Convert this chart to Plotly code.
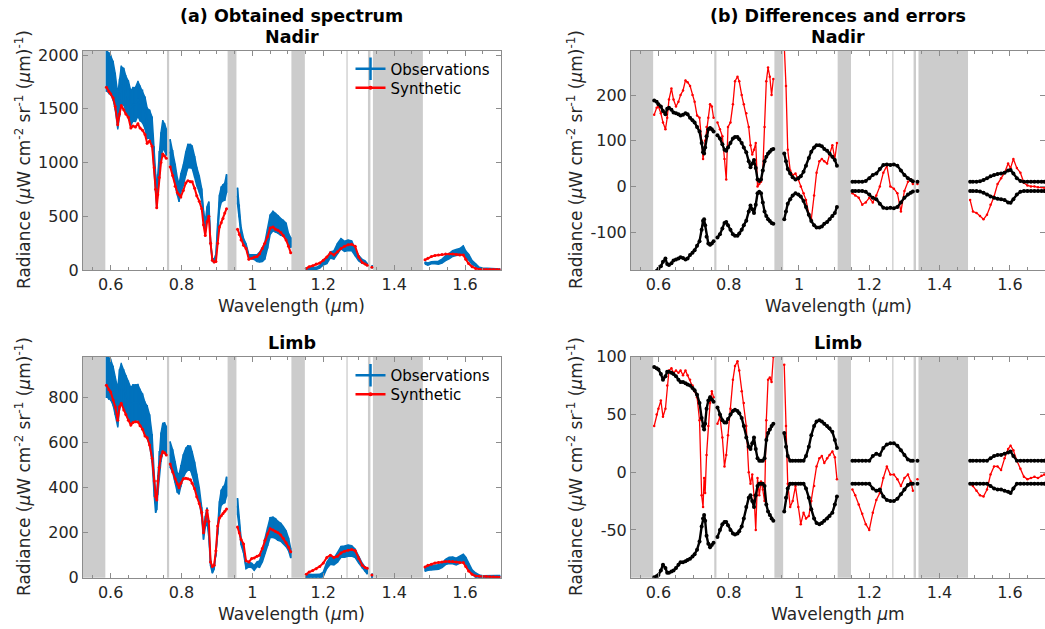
import plotly.graph_objects as go

N = None
# Wavelength grid (micrometres); None separates the spectral windows
wavelength = [
    0.588, 0.595, 0.600, 0.607, 0.613, 0.620, 0.625, 0.630, 0.637, 0.643, 0.650, 0.657, 0.663, 0.670, 0.677,
    0.683, 0.690, 0.697, 0.703, 0.710, 0.717, 0.723, 0.727, 0.730, 0.733, 0.737, 0.742, 0.747, 0.752, 0.757, N,
    0.768, 0.775, 0.782, 0.788, 0.793, 0.798, 0.805, 0.812, 0.818, 0.825, 0.830, 0.837, 0.843, 0.850, 0.857,
    0.862, 0.867, 0.872, 0.877, 0.882, 0.887, 0.892, 0.897, 0.902, 0.907, 0.912, 0.917, 0.922, 0.927, N,
    0.958, 0.963, 0.968, 0.975, 0.982, 0.990, 0.998, 1.005, 1.013, 1.020, 1.028, 1.035, 1.043, 1.050, 1.058,
    1.065, 1.072, 1.080, 1.087, 1.095, 1.102, 1.108, N,
    1.152, 1.160, 1.170, 1.180, 1.190, 1.200, 1.210, 1.220, 1.230, 1.240, 1.250, 1.260, 1.270, 1.280, 1.290,
    1.300, 1.310, 1.318, 1.324, N,
    1.337, N,
    1.487, 1.495, 1.505, 1.515, 1.525, 1.535, 1.545, 1.555, 1.565, 1.575, 1.585, 1.595, 1.602, 1.610, 1.620,
    1.630, 1.640, 1.650, 1.660, 1.670, 1.680, 1.690, 1.698,
]

nadir_synthetic = [
    1700, 1660, 1640, 1600, 1520, 1350, 1450, 1530, 1490, 1450, 1420, 1320, 1340, 1330, 1360,
    1320, 1300, 1260, 1180, 1200, 1150, 950, 750, 580, 700, 860, 1000, 1080, 1060, 1040, N,
    960, 880, 780, 720, 700, 680, 740, 810, 830, 820, 820, 760, 690, 640, 570,
    420, 320, 450, 500, 250, 90, 75, 80, 250, 400, 440, 480, 530, 570, N,
    380, 330, 280, 230, 200, 100, 110, 120, 125, 150, 200, 250, 310, 390, 400,
    380, 370, 350, 320, 280, 220, 160, N,
    15, 30, 40, 55, 65, 90, 120, 160, 140, 170, 200, 220, 235, 240, 220,
    120, 70, 55, 45, N,
    25, N,
    95, 110, 125, 135, 140, 145, 150, 150, 148, 145, 140, 140, 100, 60, 30,
    15, 8, 6, 5, 5, 4, 4, 3,
]
nadir_difference = [
    157, 172, 175, 160, 140, 125, 150, 190, 214, 190, 175, 185, 200, 210, 232,
    228, 220, 200, 185, 155, 150, 100, 60, 80, 100, 130, 150, 180, 175, 150, N,
    140, 125, 110, 60, 15, 130, 140, 180, 230, 240, 230, 200, 180, 160, 130,
    90, 70, 80, 95, 0, 5, 10, 35, 130, 230, 260, 240, 200, 235, N,
    310, 220, 80, 35, 25, 28, 15, 0, -15, -30, -60, -72, -20, 30, 55,
    60, 55, 50, 70, 90, 60, 95, N,
    -15, -20, -25, -40, -35, -25, -35, -20, 0, 30, 45, 0, -5, -15, -55,
    -10, 10, 15, 5, N,
    5, N,
    -30, -55, -58, -65, -72, -62, -40, -22, 5, 18, 30, 50, 40, 60, 40,
    30, 8, 2, 0, 0, -2, -2, -3,
]
nadir_error = [
    188, 185, 180, 175, 165, 158, 170, 172, 168, 162, 160, 158, 155, 157, 160,
    158, 150, 145, 140, 130, 120, 95, 75, 72, 85, 110, 125, 128, 125, 120, N,
    112, 105, 92, 80, 78, 85, 95, 105, 108, 108, 103, 95, 85, 75, 55,
    42, 50, 58, 40, 15, 12, 15, 35, 55, 65, 72, 76, 80, 82, N,
    72, 55, 38, 28, 20, 15, 18, 22, 32, 45, 62, 76, 85, 90, 90,
    88, 82, 78, 72, 65, 58, 45, N,
    10, 10, 10, 10, 12, 18, 25, 28, 38, 47, 48, 47, 48, 45, 35,
    25, 18, 14, 11, N,
    10, N,
    10, 10, 10, 11, 14, 18, 22, 25, 27, 28, 30, 35, 36, 28, 18,
    12, 10, 10, 10, 10, 10, 10, 10,
]

limb_synthetic = [
    855, 835, 825, 790, 760, 700, 760, 775, 745, 725, 700, 678, 690, 693, 692,
    675, 660, 630, 622, 590, 530, 430, 360, 345, 430, 490, 540, 560, 555, 545, N,
    505, 470, 440, 418, 400, 420, 440, 442, 440, 435, 420, 395, 360, 330, 290,
    200, 250, 300, 250, 70, 50, 55, 120, 230, 265, 275, 285, 295, 305, N,
    225, 200, 170, 150, 75, 70, 85, 88, 95, 100, 130, 165, 195, 218, 212,
    205, 200, 190, 175, 155, 135, 115, N,
    15, 25, 32, 40, 50, 65, 90, 100, 90, 95, 110, 118, 122, 125, 120,
    85, 55, 45, 42, N,
    12, N,
    48, 55, 60, 65, 68, 70, 72, 72, 72, 70, 68, 67, 50, 30, 15,
    8, 6, 5, 5, 4, 4, 3, 2,
]
limb_difference = [
    40, 50, 55, 62, 48, 55, 75, 88, 90, 86, 88, 86, 88, 84, 88,
    84, 80, 75, 70, 65, 45, -20, -30, -5, -18, 15, 40, 60, 70, 65, N,
    42, 48, 30, 5, 15, 32, 55, 80, 92, 96, 88, 70, 60, 40, 0,
    -10, -2, -20, -50, -5, -20, -8, -15, -25, 45, 80, 82, 78, 100, N,
    93, 40, -10, -30, -25, -12, -30, -45, -35, -40, -38, -25, -12, 5, 12,
    14, 8, 12, 15, 18, 13, -6, N,
    -15, -20, -28, -36, -45, -50, -35, -24, -18, -5, 5, -2, -2, -6, -12,
    -5, -2, -8, -16, N,
    -6, N,
    -10, -12, -16, -20, -21, -15, -2, 5, 5, 2, 12, 20, 23, 19, 10,
    3, -4, -6, -5, -4, -5, -3, -2,
]
limb_error = [
    91, 90, 89, 85, 80, 83, 87, 87, 86, 85, 83, 80, 78, 78, 77,
    76, 75, 73, 71, 67, 60, 47, 40, 37, 42, 55, 62, 65, 63, 61, N,
    56, 50, 45, 43, 43, 46, 50, 53, 54, 53, 51, 47, 40, 30, 22,
    20, 25, 30, 20, 12, 10, 10, 10, 12, 28, 34, 37, 40, 42, N,
    34, 22, 14, 10, 10, 10, 10, 10, 10, 14, 22, 32, 40, 44, 45,
    44, 42, 40, 38, 35, 28, 21, N,
    10, 10, 10, 10, 10, 10, 14, 16, 15, 21, 24, 25, 25, 23, 19,
    15, 11, 10, 10, N,
    10, N,
    10, 10, 10, 10, 10, 10, 12, 14, 15, 15, 16, 17, 18, 14, 10,
    10, 10, 10, 10, 10, 10, 10, 10,
]

# Masked spectral regions (grey) and thin marker lines
masked_bands = [(0.40, 0.585), (0.930, 0.955), (1.110, 1.148), (1.326, 1.333), (1.340, 1.481)]
thin_lines = [0.762, 1.267]

x_ticks = [0.6, 0.8, 1.0, 1.2, 1.4, 1.6]
x_tick_text = ["0.6", "0.8", "1", "1.2", "1.4", "1.6"]

BLUE = "#0072BD"
RED = "#FF0000"
GRAY = "#cccccc"
AX = "#8c8c8c"
TXT = "#262626"
FONT = "DejaVu Sans"


def add(a, b):
    return [None if (p is None or q is None) else p + q for p, q in zip(a, b)]


def neg(a):
    return [None if p is None else -p for p in a]


def segments(xs, *cols):
    out, cur = [], []
    for i, x in enumerate(xs):
        if x is None:
            if cur:
                out.append(cur)
            cur = []
        else:
            cur.append((x,) + tuple(c[i] for c in cols))
    if cur:
        out.append(cur)
    return out


def band_path(xs, centre, err):
    """Closed outline (centre +/- err) per spectral window, for a filled band."""
    bx, by = [], []
    for seg in segments(xs, centre, err):
        xx = [p[0] for p in seg]
        up = [p[1] + p[2] for p in seg]
        lo = [p[1] - p[2] for p in seg]
        if len(xx) == 1:
            xx = [xx[0] - 0.001, xx[0] + 0.001]
            up = up * 2
            lo = lo * 2
        bx += xx + xx[::-1] + [None]
        by += up + lo[::-1] + [None]
    return bx, by


nadir_obs = add(nadir_synthetic, nadir_difference)
limb_obs = add(limb_synthetic, limb_difference)

W, H = 1045, 629


def xp(px):
    return px / W


def yp(py):
    return 1 - py / H


fig = go.Figure()


def left_panel(xa, ya, obs, err, syn, leg_obs, leg_syn):
    bx, by = band_path(wavelength, obs, err)
    fig.add_trace(go.Scatter(
        x=bx, y=by, xaxis=xa, yaxis=ya, mode="lines", fill="toself", fillcolor=BLUE,
        line=dict(color=BLUE, width=1.5), showlegend=False, hoverinfo="skip"))
    fig.add_trace(go.Scatter(
        x=wavelength, y=obs, xaxis=xa, yaxis=ya, mode="lines",
        line=dict(color=BLUE, width=1.5),
        error_y=dict(type="data", array=[0 if e is None else e * 1.06 for e in err], visible=True,
                     color=BLUE, thickness=1.5, width=0),
        showlegend=False, hoverinfo="skip"))
    fig.add_trace(go.Scatter(
        x=wavelength, y=syn, xaxis=xa, yaxis=ya, mode="lines+markers",
        line=dict(color=RED, width=2), marker=dict(color=RED, size=3),
        showlegend=False, hoverinfo="skip"))
    fig.add_trace(go.Scatter(
        x=[None], y=[None], xaxis=xa, yaxis=ya, mode="lines+markers", name="Observations",
        line=dict(color=BLUE, width=2.5),
        marker=dict(symbol="line-ns", size=17, line=dict(color=BLUE, width=2.5)),
        legend=leg_obs))
    fig.add_trace(go.Scatter(
        x=[None], y=[None], xaxis=xa, yaxis=ya, mode="lines+markers", name="Synthetic",
        line=dict(color=RED, width=2.5), marker=dict(color=RED, size=4),
        legend=leg_syn))


def right_panel(xa, ya, diff, err):
    fig.add_trace(go.Scatter(
        x=wavelength, y=diff, xaxis=xa, yaxis=ya, mode="lines+markers",
        line=dict(color=RED, width=1.3), marker=dict(color=RED, size=2.5),
        showlegend=False, hoverinfo="skip"))
    for e in (err, neg(err)):
        fig.add_trace(go.Scatter(
            x=wavelength, y=e, xaxis=xa, yaxis=ya, mode="lines+markers",
            line=dict(color="black", width=2.4), marker=dict(color="black", size=4),
            showlegend=False, hoverinfo="skip"))


left_panel("x", "y", nadir_obs, nadir_error, nadir_synthetic, "legend", "legend2")
right_panel("x2", "y2", nadir_difference, nadir_error)
left_panel("x3", "y3", limb_obs, limb_error, limb_synthetic, "legend3", "legend4")
right_panel("x4", "y4", limb_difference, limb_error)

left_dom = [xp(83), xp(500.5)]
right_dom = [xp(631), 1.0]
top_dom = [yp(270), yp(50.7)]
bot_dom = [yp(577.7), yp(356.7)]

xcommon = dict(range=[0.522, 1.7], tickvals=x_ticks, ticktext=x_tick_text, automargin=False,
               showline=True, linecolor=AX, linewidth=1, mirror="allticks",
               ticks="inside", ticklen=5, tickcolor=AX, showgrid=False, zeroline=False,
               tickfont=dict(family=FONT, size=16, color=TXT),
               minor=dict(dtick=0.05, tick0=0, ticks="inside", ticklen=3, tickcolor=AX))
ycommon = dict(showline=True, linecolor=AX, linewidth=1, mirror="allticks", automargin=False,
               ticks="inside", ticklen=5, tickcolor=AX, showgrid=False, zeroline=False,
               tickfont=dict(family=FONT, size=16, color=TXT))


def legend_at(cy):
    return dict(x=xp(350.5), y=yp(cy), xanchor="left", yanchor="middle", bgcolor="rgba(0,0,0,0)",
                font=dict(family=FONT, size=15, color="black"), borderwidth=0)


fig.update_layout(
    width=W, height=H, margin=dict(l=0, r=0, t=0, b=0, autoexpand=False),
    plot_bgcolor="white", paper_bgcolor="white",
    font=dict(family=FONT, color=TXT),
    xaxis=dict(domain=left_dom, anchor="y", **xcommon),
    yaxis=dict(domain=top_dom, anchor="x", range=[0, 2040], tickvals=[0, 500, 1000, 1500, 2000], **ycommon),
    xaxis2=dict(domain=right_dom, anchor="y2", **xcommon),
    yaxis2=dict(domain=top_dom, anchor="x2", range=[-183, 297], tickvals=[-100, 0, 100, 200],
                ticktext=["-100", "0", "100", "200"], **ycommon),
    xaxis3=dict(domain=left_dom, anchor="y3", **xcommon),
    yaxis3=dict(domain=bot_dom, anchor="x3", range=[0, 982], tickvals=[0, 200, 400, 600, 800], **ycommon),
    xaxis4=dict(domain=right_dom, anchor="y4", **xcommon),
    yaxis4=dict(domain=bot_dom, anchor="x4", range=[-91.3, 100], tickvals=[-50, 0, 50, 100],
                ticktext=["-50", "0", "50", "100"], **ycommon),
    legend=legend_at(69), legend2=legend_at(88),
    legend3=legend_at(375.5), legend4=legend_at(394.5),
)

shapes = []
for xa, ya in (("x", "y"), ("x2", "y2"), ("x3", "y3"), ("x4", "y4")):
    for a, b in masked_bands:
        shapes.append(dict(type="rect", xref=xa, yref=ya + " domain", x0=max(a, 0.522), x1=b, y0=0, y1=1,
                           fillcolor=GRAY, line=dict(width=0), layer="below"))
    for i, w in enumerate(thin_lines):
        shapes.append(dict(type="line", xref=xa, yref=ya + " domain", x0=w, x1=w, y0=0, y1=1,
                           line=dict(color=GRAY, width=2.2 if i == 0 else 1.3), layer="below"))
fig.update_layout(shapes=shapes)

ytitle = "Radiance (<i>μ</i>W cm<sup>-2</sup> sr<sup>-1</sup> (<i>μ</i>m)<sup>-1</sup>)"
lc = (left_dom[0] + left_dom[1]) / 2
rc = xp(838)
ann = []


def text(x, y, s, size=17, bold=False, angle=0):
    ann.append(dict(x=x, y=y, xref="paper", yref="paper", text=("<b>%s</b>" % s) if bold else s,
                    showarrow=False, xanchor="center", yanchor="middle", textangle=angle,
                    font=dict(family=FONT, size=size, color="black" if bold else TXT)))


text(lc, yp(16), "(a) Obtained spectrum", 17.5, True)
text(lc, yp(37), "Nadir", 17.5, True)
text(rc, yp(16), "(b) Differences and errors", 17.5, True)
text(rc, yp(37), "Nadir", 17.5, True)
text(lc, yp(343), "Limb", 17.5, True)
text(rc, yp(343), "Limb", 17.5, True)
text(lc, yp(306), "Wavelength (<i>μ</i>m)")
text(rc, yp(306), "Wavelength (<i>μ</i>m)")
text(lc, yp(614), "Wavelength (<i>μ</i>m)")
text(rc, yp(614), "Wavelength <i>μ</i>m")
text(xp(23), yp(160), ytitle, 17, angle=-90)
text(xp(575), yp(160), ytitle, 17, angle=-90)
text(xp(23), yp(467), ytitle, 17, angle=-90)
text(xp(575), yp(467), ytitle, 17, angle=-90)
fig.update_layout(annotations=ann)

# Place the figure flush with the window's top-left corner (remove the page's default body margin).
fig.write_html("out.html", config={"displayModeBar": False},
               post_script="document.body.style.margin='0px';")
